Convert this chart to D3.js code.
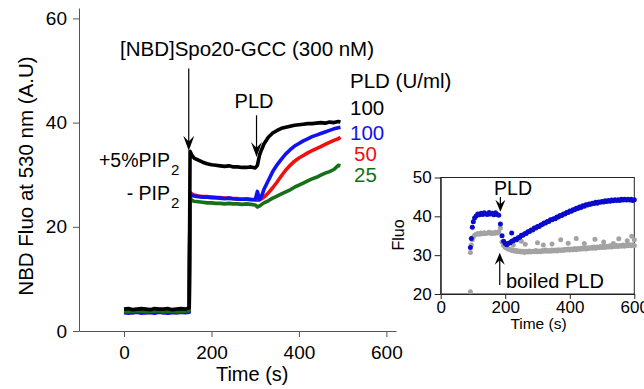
<!DOCTYPE html>
<html><head><meta charset="utf-8">
<script src="https://cdn.jsdelivr.net/npm/d3@7/dist/d3.min.js"></script>
<style>body{margin:0;background:#fff}svg{display:block}text{font-family:"Liberation Sans",Arial,sans-serif}</style>
</head><body><svg id="chart" width="644" height="389"></svg>
<script>
// ---------- Main panel data ----------
const mainTimes = [0,10,20,30,40,50,60,70,80,90,100,110,120,130,140,149,151,155,160,
  170,180,190,200,210,220,230,240,250,260,270,280,290,300,305,310,315,
  320,330,340,350,360,370,380,390,400,410,420,430,440,450,460,470,480,490,495];
const black100 = [4.2,4.3,4.1,4.2,4.3,4.2,4.1,4.3,4.2,4.2,4.3,4.1,4.2,4.3,4.2,4.4,34.5,33.8,33.2,
  32.8,32.4,32.1,31.9,31.8,31.7,31.6,31.7,31.5,31.5,31.4,31.4,31.5,31.3,31.8,33.8,34.9,
  35.9,37.2,38.0,38.5,38.9,39.1,39.3,39.5,39.6,39.7,39.8,39.8,39.9,40.0,39.9,40.1,40.0,40.2,40.1];
const blue100 = [3.5,3.4,3.5,3.6,3.4,3.5,3.5,3.4,3.6,3.5,3.4,3.5,3.5,3.6,3.5,3.6,26.3,26.0,25.9,
  25.8,25.7,25.7,25.6,25.6,25.5,25.4,25.5,25.4,25.3,25.3,25.3,25.2,25.2,26.8,25.2,26.0,
  27.2,28.9,30.6,31.9,33.0,34.0,34.8,35.5,36.0,36.5,36.9,37.3,37.6,37.9,38.2,38.5,38.8,39.0,39.1];
const red50 = [3.6,3.6,3.5,3.7,3.6,3.5,3.6,3.6,3.7,3.5,3.6,3.6,3.5,3.6,3.6,3.7,26.6,26.3,26.1,
  25.9,25.8,25.8,25.7,25.6,25.6,25.5,25.5,25.4,25.4,25.3,25.4,25.3,25.2,25.1,25.2,25.4,
  25.7,26.5,27.5,28.6,29.8,30.9,31.8,32.6,33.2,33.7,34.2,34.6,35.0,35.4,35.8,36.2,36.6,36.9,37.2];
const green25 = [3.8,3.7,3.8,3.9,3.8,3.7,3.8,3.8,3.9,3.7,3.8,3.8,3.7,3.8,3.8,3.9,25.5,25.1,24.9,
  24.8,24.7,24.6,24.6,24.5,24.5,24.4,24.5,24.4,24.4,24.3,24.4,24.3,24.2,23.8,24.0,24.3,
  24.6,25.0,25.5,25.9,26.3,26.7,27.1,27.6,28.0,28.4,28.8,29.2,29.5,29.9,30.3,30.6,31.0,31.8,31.7];
const mainXTicks = [0,200,400,600];
const mainYTicks = [0,20,40,60];
const legendTitle = "PLD (U/ml)";
const legendLabels = ["100","100","50","25"];

// ---------- Inset data ----------
const insetTimes = [92,95,98,101,
  105,110,115,120,125,130,135,140,145,150,155,160,165,170,175,180,185,190,195,200,
  205,210,215,220,225,230,235,240,245,250,255,260,265,270,275,280,285,290,295,300,
  305,310,315,320,325,330,335,340,345,350,355,360,365,370,375,380,385,390,395,400,
  405,410,415,420,425,430,435,440,445,450,455,460,465,470,475,480,485,490,495,500,
  505,510,515,520,525,530,535,540,545,550,555,560,565,570,575,580,585,590,595,600];
const insetPLD = [32.0,34.3,37.2,38.6,
  39.6,40.1,40.6,40.4,40.8,40.5,40.9,40.6,40.5,41.0,40.6,40.8,40.4,40.9,40.5,40.3,38.0,35.0,33.6,33.0,
  32.7,33.1,33.2,33.6,33.7,34.1,34.0,34.5,34.6,35.1,35.1,35.5,35.6,36.0,36.1,36.5,36.5,37.0,37.0,37.4,
  37.4,37.8,37.9,38.3,38.3,38.7,38.7,39.1,39.1,39.4,39.4,39.8,39.8,40.2,40.2,40.6,40.6,41.0,41.0,41.4,
  41.3,41.7,41.7,42.1,42.0,42.4,42.3,42.7,42.6,43.0,42.9,43.2,43.1,43.4,43.3,43.6,43.4,43.7,43.6,43.8,
  43.7,44.0,43.8,44.1,43.9,44.2,44.0,44.3,44.1,44.3,44.1,44.4,44.2,44.4,44.2,44.4,44.2,44.4,44.1,44.3];
const insetBoiled = [30.7,32.6,34.0,34.7,
  35.1,35.4,35.6,35.4,35.7,35.5,35.8,35.6,35.7,35.9,35.6,35.8,35.6,35.9,35.7,36.0,37.0,33.4,32.5,32.0,
  31.8,31.5,31.5,31.2,31.3,31.0,31.2,30.9,31.1,30.8,31.0,30.7,31.0,30.8,31.1,30.8,31.0,30.9,31.2,30.9,
  31.1,30.9,31.2,31.0,31.3,31.0,31.2,31.0,31.3,31.1,31.3,31.1,31.4,31.2,31.4,31.2,31.5,31.3,31.6,31.3,
  31.6,31.4,31.7,31.4,31.7,31.5,31.8,31.6,31.9,31.6,31.9,31.7,32.0,31.8,32.1,31.8,32.1,31.9,32.2,32.0,
  32.3,32.0,32.3,32.1,32.4,32.1,32.4,32.2,32.5,32.2,32.5,32.3,32.6,32.3,32.6,32.4,32.7,32.4,32.7,32.5];
const boiledExtraTimes = [92,225,250,262,300,318,345,372,395,420,445,478,505,535,552,578,592,600];
const boiledExtraValues = [20.6,32.6,33.6,32.8,33.2,32.6,32.9,34.0,33.1,34.3,33.0,34.1,33.4,33.0,34.2,33.7,34.9,34.0];
const pldExtraTimes = [220];
const pldExtraValues = [35.7];
const insetXTicks = [0,200,400,600];
const insetYTicks = [20,30,40,50];

// ---------- Drawing ----------
const svg = d3.select("#chart");
svg.append("rect").attr("width",644).attr("height",389).attr("fill","#fff");
const AX = "#555";

function txt(g, x, y, s, o) {
  o = o || {};
  const t = g.append("text").attr("x", x).attr("y", y).text(s)
    .attr("font-size", o.size || 18).attr("fill", o.fill || "#000")
    .attr("text-anchor", o.anchor || "start");
  if (o.rotate) t.attr("transform", `rotate(${o.rotate},${x},${y})`);
  return t;
}
function arrow(g, x, y0, tip, hl, hw) {
  const dir = tip > y0 ? 1 : -1;
  g.append("line").attr("x1", x).attr("x2", x).attr("y1", y0).attr("y2", tip - dir * 4)
    .attr("stroke", "#000").attr("stroke-width", 1.2);
  g.append("path").attr("d",
    `M${x},${tip} L${x - hw},${tip - dir * hl} L${x},${tip - dir * hl * 0.62} L${x + hw},${tip - dir * hl} Z`)
    .attr("fill", "#000");
}

// Main scales
const x = d3.scaleLinear().domain([-103, 622]).range([79, 396]);
const y = d3.scaleLinear().domain([0, 62]).range([331, 8]);

const gx = svg.append("g").attr("transform", "translate(0,331)")
  .call(d3.axisBottom(x).tickValues(mainXTicks).tickSize(6).tickSizeOuter(0).tickPadding(5));
const gy = svg.append("g").attr("transform", "translate(79,0)")
  .call(d3.axisLeft(y).tickValues(mainYTicks).tickSize(6).tickSizeOuter(0).tickPadding(6));
[gx, gy].forEach(g => {
  g.selectAll("path,line").attr("stroke", AX);
  g.selectAll("text").attr("font-size", 19).attr("fill", "#000")
    .style("font-family", '"Liberation Sans",Arial,sans-serif');
});
gx.selectAll("text").attr("dy", "0.92em");

txt(svg, x(300) - 3, 381, "Time (s)", {size: 20, anchor: "middle"});
txt(svg, 33, 176, "NBD Fluo at 530 nm (A.U)", {size: 20.5, anchor: "middle", rotate: -90});

const line = d3.line().x((d, i) => x(mainTimes[i])).y(d => y(d));
const series = [
  {v: red50, c: "#ee1111"},
  {v: blue100, c: "#1212f0"},
  {v: green25, c: "#16701a"},
  {v: black100, c: "#000"}
];
series.forEach(s => {
  svg.append("path").datum(s.v).attr("d", line).attr("fill", "none")
    .attr("stroke", s.c).attr("stroke-width", 3.6).attr("stroke-linejoin", "round");
});

// Main annotations
txt(svg, 247, 56, "[NBD]Spo20-GCC (300 nM)", {size: 20.5, anchor: "middle"});
arrow(svg, x(148), y(50.4), y(34.6), 15, 5.5);
txt(svg, 254, 108, "PLD", {size: 20, anchor: "middle"});
arrow(svg, x(303), y(41.4), y(33.4), 15, 5.5);
txt(svg, 170, 167, "+5%PIP", {size: 19.5, anchor: "end"});
txt(svg, 171, 175, "2", {size: 15});
txt(svg, 170, 200, "- PIP", {size: 19.5, anchor: "end"});
txt(svg, 171, 208, "2", {size: 15});

txt(svg, 350, 88, legendTitle, {size: 20.5});
const legendColors = ["#000", "#1212f0", "#ee1111", "#16701a"];
const legendY = [115, 140, 161, 182];
const legendX = [350, 350, 354, 354];
legendLabels.forEach((l, i) => txt(svg, legendX[i], legendY[i], l, {size: 20.5, fill: legendColors[i]}));

// ---------- Inset ----------
const xi = d3.scaleLinear().domain([0, 600]).range([440.7, 634.3]);
const yi = d3.scaleLinear().domain([20, 50]).range([294, 177.5]);
const ins = svg.append("g");
ins.append("rect").attr("x", xi(0)).attr("y", yi(50)).attr("width", xi(600) - xi(0))
  .attr("height", yi(20) - yi(50)).attr("fill", "none").attr("stroke", "#222").attr("stroke-width", 1);
const gxi = ins.append("g").attr("transform", `translate(0,${yi(20)})`)
  .call(d3.axisBottom(xi).tickValues(insetXTicks).tickSize(5).tickSizeOuter(0).tickPadding(1));
const gyi = ins.append("g").attr("transform", `translate(${xi(0)},0)`)
  .call(d3.axisLeft(yi).tickValues(insetYTicks).tickSize(6).tickSizeOuter(0).tickPadding(3));
[gxi, gyi].forEach(g => {
  g.selectAll("path,line").attr("stroke", "#222");
  g.selectAll("text").attr("font-size", 17).attr("fill", "#000")
    .style("font-family", '"Liberation Sans",Arial,sans-serif');
});
gxi.selectAll("text").attr("dy", "0.78em");
txt(ins, 538.5, 329, "Time (s)", {size: 15.5, anchor: "middle"});
txt(ins, 404, 235, "Fluo", {size: 16, anchor: "middle", rotate: -90});

const dots = (times, vals, color) => ins.append("g").selectAll("circle")
  .data(vals).join("circle")
  .attr("cx", (d, i) => xi(times[i])).attr("cy", d => yi(d)).attr("r", 2.5).attr("fill", color);
dots(insetTimes, insetBoiled, "#a3a3a3");
dots(boiledExtraTimes, boiledExtraValues, "#a3a3a3");
dots(insetTimes, insetPLD, "#0b0bcc");
dots(pldExtraTimes, pldExtraValues, "#0b0bcc");

txt(ins, 513, 195, "PLD", {size: 19.5, anchor: "middle"});
arrow(ins, xi(185), 197, yi(41.2), 12, 5);
arrow(ins, xi(183), 285, yi(30.6), 12, 5);
txt(ins, 506, 288, "boiled PLD", {size: 20});
</script></body></html>
